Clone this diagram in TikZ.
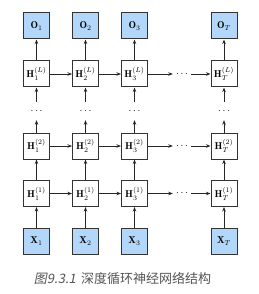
\documentclass[tikz,border=0pt]{standalone}
\usepackage{fontspec}
\newfontfamily\cjk{Noto Sans CJK SC}
\newfontfamily\cjksl{Noto Sans CJK SC}[FakeSlant=0.2]
\usetikzlibrary{arrows.meta}
\definecolor{boxblue}{HTML}{B3D7FA}
\definecolor{edge}{HTML}{333333}
\definecolor{capgray}{HTML}{555555}
\tikzset{
  cell/.style={draw=edge, line width=1pt, minimum size=26pt, inner sep=0pt, fill=white, font=\fontsize{10}{12}\selectfont},
  iocell/.style={cell, fill=boxblue},
  dotsnode/.style={minimum width=18pt, minimum height=18pt, inner sep=0pt},
  arr/.style={-{Stealth[length=4.5pt,width=3.5pt]}, line width=0.9pt, draw=black!85}
}
\begin{document}
\begin{tikzpicture}[x=1pt,y=-1pt]
\useasboundingbox (0,0) rectangle (258,294);
% columns
\foreach \c/\x/\s in {1/36.5/1, 2/85.5/2, 3/134.5/3, T/224/T}{
  \node[iocell] (o\c) at (\x,26) {$\mathbf{O}_{\s}$};
  \node[cell] (hL\c) at (\x,74) {$\mathbf{H}_{\s}^{(L)}$};
  \node[dotsnode] (v\c) at (\x,111) {$\cdots$};
  \node[cell] (h2\c) at (\x,146) {$\mathbf{H}_{\s}^{(2)}$};
  \node[cell] (h1\c) at (\x,193.5) {$\mathbf{H}_{\s}^{(1)}$};
  \node[iocell] (x\c) at (\x,241) {$\mathbf{X}_{\s}$};
  \draw[arr] (x\c) -- (h1\c);
  \draw[arr] (h1\c) -- (h2\c);
  \draw[arr] (h2\c) -- (v\c);
  \draw[arr] (v\c) -- (hL\c);
  \draw[arr] (hL\c) -- (o\c);
}
% horizontal dots
\node[dotsnode] (dL) at (182,74) {$\cdots$};
\node[dotsnode] (d2) at (182,146) {$\cdots$};
\node[dotsnode] (d1) at (182,193.5) {$\cdots$};
\foreach \r/\d in {hL/dL, h2/d2, h1/d1}{
  \draw[arr] (\r1) -- (\r2);
  \draw[arr] (\r2) -- (\r3);
  \draw[arr] (\r3) -- (\d);
  \draw[arr] (\d) -- (\r T);
}
% caption
\node[text=capgray, font=\fontsize{13}{15}\selectfont, inner sep=0pt] (cap) at (122.5,279) {{\cjksl 图9.3.1}\hspace{0.4em}{\cjk 深度循环神经网络结构}};
\end{tikzpicture}
\end{document}
